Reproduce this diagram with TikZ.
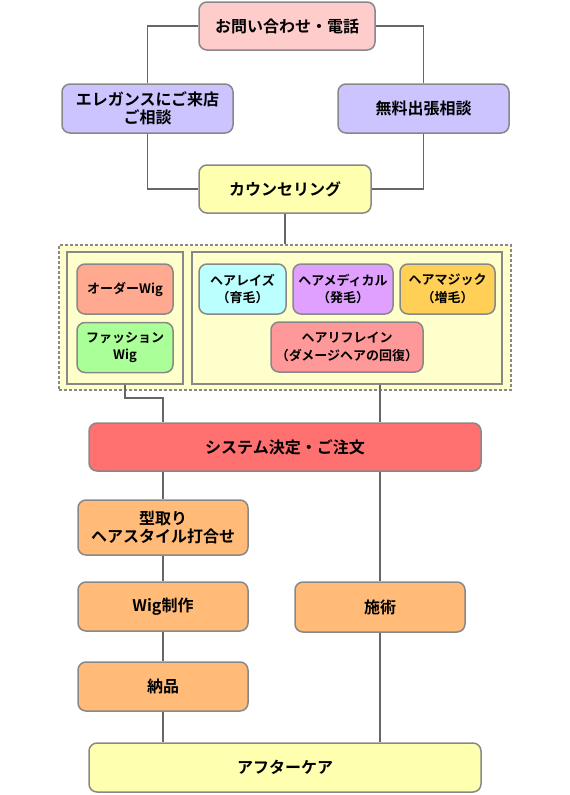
\documentclass[tikz,border=0pt]{standalone}
\usepackage{fontspec}
\setmainfont{Noto Sans CJK JP}[BoldFont=* Bold]
\usepackage{tikz}
\usetikzlibrary{positioning}

\definecolor{pinkfill}{HTML}{FFCCCC}
\definecolor{lavfill}{HTML}{CCC4FF}
\definecolor{yelfill}{HTML}{FFFFB0}
\definecolor{grpfill}{HTML}{FFFFCC}
\definecolor{salmfill}{HTML}{FFAA90}
\definecolor{greenfill}{HTML}{AAFF99}
\definecolor{cyanfill}{HTML}{BBFFFF}
\definecolor{purpfill}{HTML}{E0A0FF}
\definecolor{goldfill}{HTML}{FFD055}
\definecolor{rosefill}{HTML}{FF9999}
\definecolor{redfill}{HTML}{FF7070}
\definecolor{orgfill}{HTML}{FFBB77}
\definecolor{edgegray}{HTML}{888888}
\definecolor{linegray}{HTML}{666666}

\begin{document}
\begin{tikzpicture}[x=1pt,y=-1pt,line width=1.5pt,
  box/.style={draw=edgegray,rounded corners=8pt,align=center,inner sep=0pt,
    font=\fontsize{16}{18}\selectfont\bfseries},
  small/.style={box,font=\fontsize{13}{17.5}\selectfont\bfseries},
  grp/.style={draw=edgegray,fill=grpfill,inner sep=0pt},
  link/.style={draw=linegray}]
\useasboundingbox (0,0) rectangle (570,795);

\node[box,fill=pinkfill,minimum width=176pt,minimum height=48pt] (ask) at (287,26) {お問い合わせ・電話};
\node[box,fill=lavfill,minimum width=171pt,minimum height=49pt] (visit) at (147.5,108.5) {エレガンスにご来店\\ご相談};
\node[box,fill=lavfill,minimum width=171pt,minimum height=49pt] (trip) at (423.5,108.5) {無料出張相談};
\node[box,fill=yelfill,minimum width=172pt,minimum height=48pt] (counsel) at (285,189) {カウンセリング};

\node[grp,dash pattern=on 3pt off 2pt,minimum width=452pt,minimum height=145pt] (menu) at (285,317.5) {};
\node[grp,minimum width=116pt,minimum height=132pt] (wiggrp) at (125,318) {};
\node[grp,minimum width=310pt,minimum height=132pt] (caregrp) at (347,318) {};
\node[small,fill=salmfill,minimum width=96pt,minimum height=50pt] (orderwig) at (125,289) {オーダーWig};
\node[small,fill=greenfill,minimum width=96pt,minimum height=50pt] (fashion) [below=7pt of orderwig] {ファッション\\Wig};
\node[small,fill=cyanfill,minimum width=87pt,minimum height=50pt] (raise) at (242.5,289) {ヘアレイズ\\（育毛）};
\node[small,fill=purpfill,minimum width=100pt,minimum height=50pt] (medical) at (343,289) {ヘアメディカル\\（発毛）};
\node[small,fill=goldfill,minimum width=95pt,minimum height=50pt] (magic) at (447.5,289) {ヘアマジック\\（増毛）};
\node[small,fill=rosefill,minimum width=152pt,minimum height=50pt] (refrain) at (347,347) {ヘアリフレイン\\（ダメージヘアの回復）};

\node[box,fill=redfill,minimum width=392pt,minimum height=48pt] (order) at (285,447) {システム決定・ご注文};
\node[box,fill=orgfill,minimum width=170pt,minimum height=55pt] (kata) at (163,527.5) {型取り\\ヘアスタイル打合せ};
\node[box,fill=orgfill,minimum width=170pt,minimum height=49pt] (make) at (163,606.5) {Wig制作};
\node[box,fill=orgfill,minimum width=170pt,minimum height=50pt] (treat) at (380,607) {施術};
\node[box,fill=orgfill,minimum width=170pt,minimum height=49pt] (deliver) at (163,686.5) {納品};
\node[box,fill=yelfill,minimum width=392pt,minimum height=49pt] (after) at (285,767.5) {アフターケア};

\coordinate (bend) at (163,398);

% connectors
\draw[link] (ask.west) -| (visit.north);
\draw[link] (ask.east) -| (trip.north);
\draw[link] (visit.south) |- (counsel.west);
\draw[link] (trip.south) |- (counsel.east);
\draw[link] (counsel.south) -- (menu.north);
\draw[link] (wiggrp.south) |- (bend) -- (order.north -| bend);
\draw[link] (caregrp.south -| treat) -- (order.north -| treat);
\draw[link] (order.south -| kata) -- (kata.north);
\draw[link] (kata) -- (make);
\draw[link] (make) -- (deliver);
\draw[link] (deliver.south) -- (after.north -| deliver);
\draw[link] (order.south -| treat) -- (treat.north);
\draw[link] (treat.south) -- (after.north -| treat);
\end{tikzpicture}
\end{document}
